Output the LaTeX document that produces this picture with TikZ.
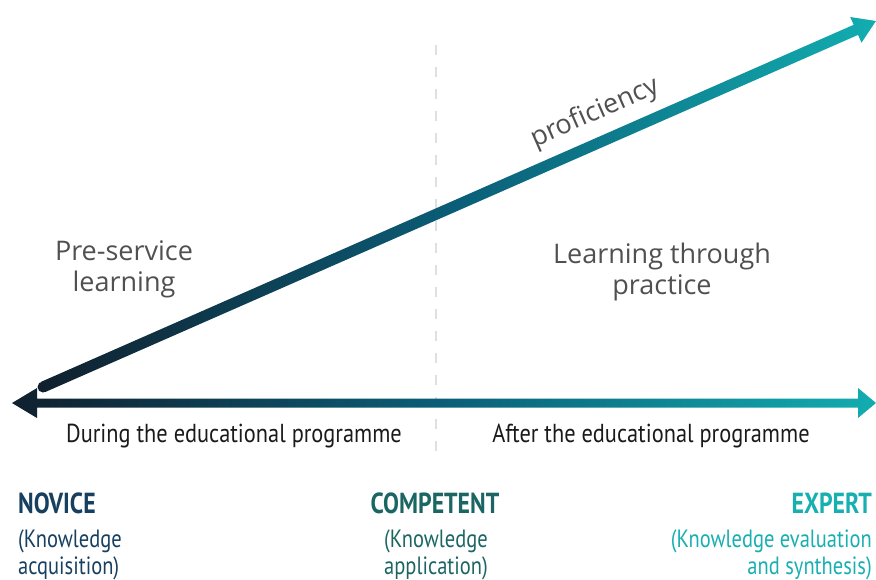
\documentclass[tikz,border=0pt]{standalone}
\usepackage{fontspec}
\setmainfont{Open Sans}
\newfontfamily\condfont[FakeStretch=0.82]{PT Sans}
\newfontfamily\phasefont[FakeStretch=0.86]{PT Sans}
\usetikzlibrary{calc}

\definecolor{navy}{HTML}{10202E}
\definecolor{midblue}{HTML}{0B5E78}
\definecolor{tealend}{HTML}{12ADB0}
\definecolor{lighttext}{HTML}{505050}
\definecolor{darktext}{HTML}{1A1A1A}
\definecolor{novice}{HTML}{173F5F}
\definecolor{competent}{HTML}{1B6663}
\definecolor{expert}{HTML}{18AFB1}

\begin{document}
\begin{tikzpicture}[
  x=1pt,
  y=-1pt,
  band/.style={left color=navy, right color=tealend, middle color=midblue},
  divider/.style={line width=2.5pt, black!12, dash pattern=on 10pt off 12pt},
  lightlabel/.style={font=\fontsize{27}{31}\selectfont, text=lighttext, align=center, inner sep=0pt},
  phase/.style={font=\phasefont\fontsize{26}{28}\selectfont, text=darktext, inner sep=0pt},
  stage/.style={font=\condfont\bfseries\fontsize{29}{31}\selectfont, inner sep=0pt},
  stagenote/.style={font=\condfont\fontsize{25}{27}\selectfont, inner sep=0pt}
  ]
    \useasboundingbox (0,0) rectangle (876,580);

    % ends of the two arrows
    \coordinate (left tip) at (12,403);
    \coordinate (right tip) at (876,403);
    \coordinate (origin) at (43,387);
    \coordinate (tip) at (876,21);
    \coordinate (base) at ($(tip)!22pt!(origin)$);

    % divider between the two phases
    \coordinate (divtop) at (436,45);
    \coordinate (divbottom) at (436,452);
    \draw[divider] (divtop) -- (divbottom);

    % time axis, both ways
    \shade[band] (left tip) -- ++(25,-15) -- ++(0,10.5) -- ($(right tip)+(-18,-4.5)$) -- ++(0,-10.5)
      -- (right tip) -- ++(-18,15) -- ++(0,-10.5) -- ($(left tip)+(25,4.5)$) -- ++(0,10.5) -- cycle;

    % proficiency arrow
    \fill[navy] (origin) circle (5.5pt);
    \shade[band] ($(origin)!5.5pt!90:(tip)$) -- ($(base)!5.5pt!90:(tip)$) -- ($(base)!14pt!90:(tip)$)
      -- (tip) -- ($(base)!14pt!-90:(tip)$) -- ($(base)!5.5pt!-90:(tip)$) -- ($(origin)!5.5pt!-90:(tip)$) -- cycle;

    \node[lightlabel, rotate=23.7] (proficiency) at (595,113) {proficiency};
    \node[lightlabel] (preservice) at (124,269) {Pre-service\\learning};
    \node[lightlabel] (practice) at (662,272) {Learning through\\practice};

    % phases
    \node[phase, anchor=base] (during) at (234,442) {During the educational programme};
    \node[phase, anchor=base] (after) at (651,442) {After the educational programme};

    % stages
    \node[stage, text=novice, anchor=base west] (novicelabel) at (18,513) {NOVICE};
    \node[stagenote, text=novice, anchor=north west, align=left] (novicenote) at (18,529) {(Knowledge\\acquisition)};

    \node[stage, text=competent, anchor=base] (competentlabel) at (435,513) {COMPETENT};
    \node[stagenote, text=competent, anchor=north, align=center] (competentnote) at (436,529) {(Knowledge\\application)};

    \node[stage, text=expert, anchor=base east] (expertlabel) at (872,513) {EXPERT};
    \node[stagenote, text=expert, anchor=north east, align=right] (expertnote) at (872,529) {(Knowledge evaluation\\and synthesis)};

\end{tikzpicture}
\end{document}
